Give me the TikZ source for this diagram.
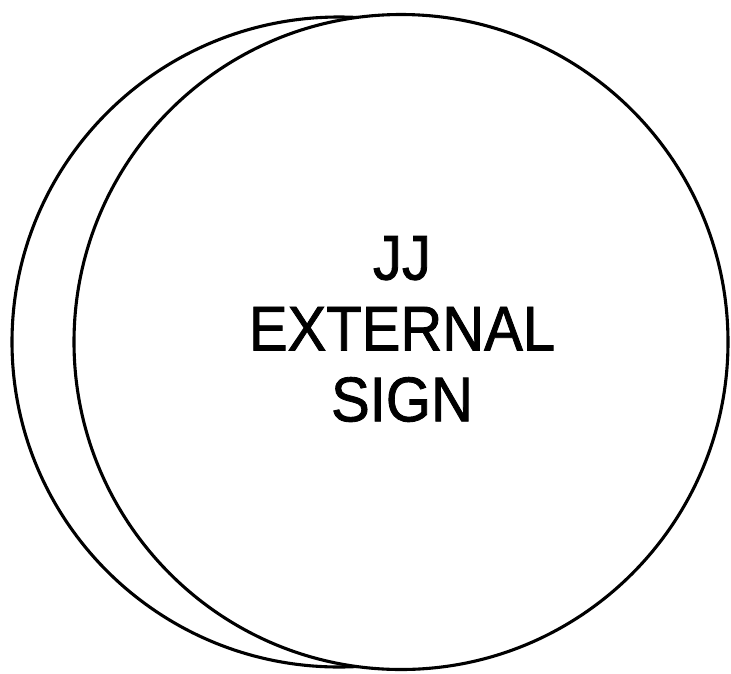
\documentclass[tikz,border=0pt]{standalone}
\usepackage{fontspec}
\setmainfont{Liberation Sans}
\newfontfamily\signfont{Liberation Sans}[FakeBold=1.4]
\begin{document}
\begin{tikzpicture}[x=1pt,y=-1pt,
  ring/.style={line width=3.1pt,draw=black},
  label/.style={align=center,font=\signfont\fontsize{58}{65}\selectfont,yscale=1.09,transform shape,inner sep=0pt}]
\useasboundingbox (0,0) rectangle (731,673);
\draw[ring] (339,342) ellipse [x radius=327, y radius=325];
\draw[ring,fill=white] (401,342) ellipse [x radius=327, y radius=327.5];
\node[label] (t) at (402,329) {JJ\\EXTERNAL\\SIGN};
\end{tikzpicture}
\end{document}
